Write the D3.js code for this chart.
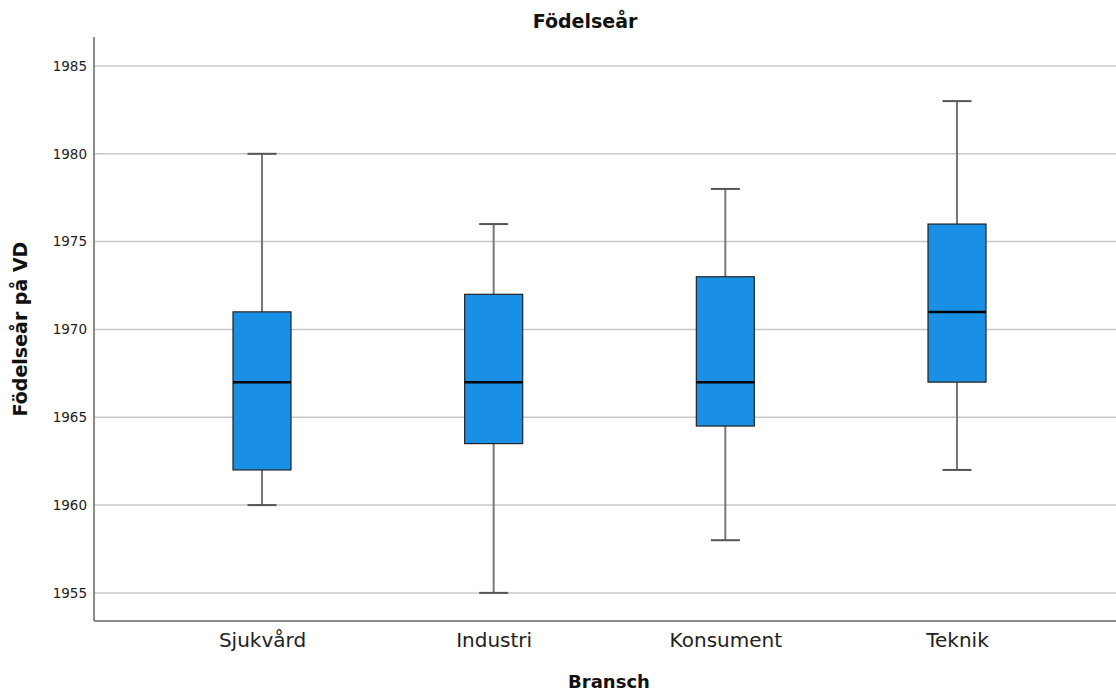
<!DOCTYPE html>
<html><head><meta charset="utf-8">
<script src="https://cdn.jsdelivr.net/npm/d3@7"></script>
<style>body{margin:0;background:#fff}svg{display:block}text{font-family:"DejaVu Sans",sans-serif}</style>
</head><body><svg id="c" width="1116" height="693"></svg>
<script>
const categories = ["Sjukvård","Industri","Konsument","Teknik"];
const whiskerLow = [1960,1955,1958,1962];
const q1 = [1962,1963.5,1964.5,1967];
const median = [1967,1967,1967,1971];
const q3 = [1971,1972,1973,1976];
const whiskerHigh = [1980,1976,1978,1983];
const yTicks = [1955,1960,1965,1970,1975,1980,1985];

(function(){
const svg = d3.select("#c");
const pl=94, pr=1116, pt=37, pb=621;
const y = d3.scaleLinear().domain([1953.4,1986.65]).range([pb,pt]);
const x = d3.scalePoint().domain(categories).range([262,957]);
const boxW = 58, capW = 29;

svg.append("g").selectAll("line").data(yTicks).join("line")
  .attr("x1",pl).attr("x2",pr).attr("y1",d=>y(d)).attr("y2",d=>y(d))
  .attr("stroke","#c8c8c8").attr("stroke-width",1.5);

const ya = svg.append("g").attr("transform",`translate(${pl},0)`)
  .call(d3.axisLeft(y).tickValues(yTicks).tickFormat(d3.format("d")).tickSize(0).tickPadding(7));
ya.select(".domain").remove();
ya.selectAll("text").attr("font-size",13.5).attr("fill","#222").style("font-family","DejaVu Sans");

const xa = svg.append("g").attr("transform",`translate(0,${pb})`)
  .call(d3.axisBottom(x).tickSize(0).tickPadding(12));
xa.select(".domain").remove();
xa.selectAll("text").attr("font-size",20).attr("fill","#222").style("font-family","DejaVu Sans");

svg.append("line").attr("x1",pl).attr("x2",pl).attr("y1",pt).attr("y2",pb).attr("stroke","#666").attr("stroke-width",1.5);
svg.append("line").attr("x1",pl).attr("x2",pr).attr("y1",pb).attr("y2",pb).attr("stroke","#666").attr("stroke-width",1.5);

const data = categories.map((c,i)=>({c,lo:whiskerLow[i],q1:q1[i],med:median[i],q3:q3[i],hi:whiskerHigh[i]}));
const g = svg.append("g").selectAll("g").data(data).join("g");
g.append("line").attr("x1",d=>x(d.c)).attr("x2",d=>x(d.c)).attr("y1",d=>y(d.lo)).attr("y2",d=>y(d.q1)).attr("stroke","#777").attr("stroke-width",2);
g.append("line").attr("x1",d=>x(d.c)).attr("x2",d=>x(d.c)).attr("y1",d=>y(d.q3)).attr("y2",d=>y(d.hi)).attr("stroke","#777").attr("stroke-width",2);
g.append("line").attr("x1",d=>x(d.c)-capW/2).attr("x2",d=>x(d.c)+capW/2).attr("y1",d=>y(d.lo)).attr("y2",d=>y(d.lo)).attr("stroke","#555").attr("stroke-width",2);
g.append("line").attr("x1",d=>x(d.c)-capW/2).attr("x2",d=>x(d.c)+capW/2).attr("y1",d=>y(d.hi)).attr("y2",d=>y(d.hi)).attr("stroke","#555").attr("stroke-width",2);
g.append("rect").attr("x",d=>x(d.c)-boxW/2).attr("width",boxW).attr("y",d=>y(d.q3)).attr("height",d=>y(d.q1)-y(d.q3))
  .attr("fill","#1a8fe6").attr("stroke","#222").attr("stroke-width",1.2);
g.append("line").attr("x1",d=>x(d.c)-boxW/2).attr("x2",d=>x(d.c)+boxW/2).attr("y1",d=>y(d.med)).attr("y2",d=>y(d.med)).attr("stroke","#000").attr("stroke-width",2.5);

svg.append("text").attr("x",585).attr("y",28).attr("text-anchor","middle").attr("font-size",19).attr("font-weight","bold").attr("fill","#111").text("Födelseår");
svg.append("text").attr("x",609).attr("y",688).attr("text-anchor","middle").attr("font-size",18).attr("font-weight","bold").attr("fill","#111").text("Bransch");
svg.append("text").attr("transform","translate(27,329) rotate(-90)").attr("text-anchor","middle").attr("font-size",19).attr("font-weight","bold").attr("fill","#111").text("Födelseår på VD");
})();
</script></body></html>
